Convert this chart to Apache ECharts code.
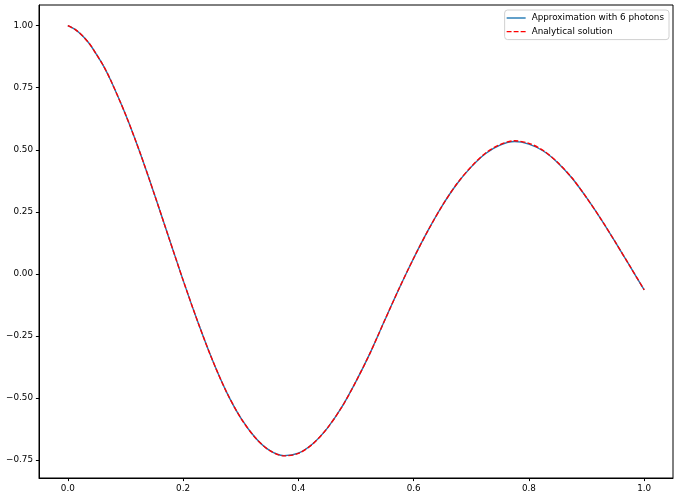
<!DOCTYPE html>
<html>
<head>
<meta charset="utf-8">
<script src="https://cdn.jsdelivr.net/npm/echarts@6/dist/echarts.min.js"></script>
<style>html,body{margin:0;padding:0;background:#fff;}#c{width:679px;height:500px;}</style>
</head>
<body>
<div id="c"></div>
<script>
const xValues = [0,0.0125,0.025,0.0375,0.05,0.0625,0.075,0.1,0.125,0.15,0.175,0.2,0.225,0.25,0.275,0.3,0.325,0.35,0.375,0.4,0.425,0.45,0.475,0.5,0.525,0.55,0.575,0.6,0.625,0.65,0.675,0.7,0.725,0.75,0.775,0.8,0.825,0.85,0.875,0.9,0.925,0.95,0.975,1.0];
const approxValues = [1.000,0.985,0.960,0.927,0.883,0.835,0.777,0.643,0.490,0.322,0.148,-0.025,-0.190,-0.342,-0.474,-0.580,-0.659,-0.711,-0.732,-0.722,-0.684,-0.622,-0.538,-0.433,-0.316,-0.186,-0.058,0.063,0.175,0.276,0.362,0.431,0.485,0.519,0.533,0.523,0.495,0.448,0.385,0.307,0.221,0.128,0.032,-0.064];
const analyticValues = [1.000,0.985,0.960,0.927,0.883,0.835,0.777,0.643,0.490,0.322,0.148,-0.025,-0.190,-0.342,-0.474,-0.580,-0.659,-0.711,-0.733,-0.723,-0.685,-0.622,-0.538,-0.433,-0.316,-0.186,-0.058,0.063,0.175,0.276,0.363,0.432,0.487,0.521,0.536,0.526,0.497,0.449,0.386,0.307,0.221,0.128,0.032,-0.064];
const xTicks = [0,0.2,0.4,0.6,0.8,1.0];
const yTicks = [-0.75,-0.5,-0.25,0,0.25,0.5,0.75,1.0];
const seriesNames = ['Approximation with 6 photons','Analytical solution'];

const fmtY = v => { const s = Math.abs(v).toFixed(2); return v < 0 ? '\u2212' + s : s; };
const fmtX = v => { const s = Math.abs(v).toFixed(1); return v < 0 ? '\u2212' + s : s; };

const solidIcon = 'path://M0,0H19V1.4H0Z';
const dashIcon = 'path://M0,0H4.9V1.4H0Z M7,0H11.9V1.4H7Z M14,0H18.9V1.4H14Z M18.9,0H19V1.4H18.9Z';

const chart = echarts.init(document.getElementById('c'), null, {renderer:'canvas'});
chart.setOption({
  animation:false,
  backgroundColor:'#fff',
  textStyle:{fontFamily:'DejaVu Sans'},
  grid:{left:39,right:6,top:5,bottom:22,show:true,borderColor:'#000',borderWidth:1,backgroundColor:'transparent'},
  legend:{
    orient:'vertical', right:10, top:10,
    data:[
      {name:seriesNames[0], icon:solidIcon, itemStyle:{color:'#1f77b4'}},
      {name:seriesNames[1], icon:dashIcon, itemStyle:{color:'#ff0000'}}
    ],
    itemWidth:19, itemHeight:1.4, itemGap:3.6,
    padding:[3,5,3,2],
    borderColor:'#d0d0d0', borderWidth:1, borderRadius:3,
    backgroundColor:'rgba(255,255,255,0.8)',
    textStyle:{fontFamily:'DejaVu Sans',fontSize:8.8,color:'#000',lineHeight:10,padding:[0,0,0,1]}
  },
  xAxis:{
    type:'value', min:-0.05, max:1.05,
    splitLine:{show:false},
    axisLine:{show:true,onZero:false,lineStyle:{color:'#000',width:1}},
    axisTick:{show:true,length:3.1,lineStyle:{color:'#000'},customValues:xTicks},
    axisLabel:{color:'#000',fontSize:8.8,margin:6,customValues:xTicks,formatter:fmtX,fontFamily:'DejaVu Sans'}
  },
  yAxis:{
    type:'value', min:-0.822, max:1.083,
    splitLine:{show:false},
    axisLine:{show:true,onZero:false,lineStyle:{color:'#000',width:1}},
    axisTick:{show:true,length:3.1,lineStyle:{color:'#000'},customValues:yTicks},
    axisLabel:{color:'#000',fontSize:8.8,margin:6,customValues:yTicks,formatter:fmtY,fontFamily:'DejaVu Sans'}
  },
  series:[
    {name:seriesNames[0],type:'line',showSymbol:false,symbol:'none',smooth:0.3,
     data:xValues.map((x,i)=>[x,approxValues[i]]),
     itemStyle:{color:'#1f77b4'},
     lineStyle:{color:'#1f77b4',width:1.4}},
    {name:seriesNames[1],type:'line',showSymbol:false,symbol:'none',smooth:0.3,
     data:xValues.map((x,i)=>[x,analyticValues[i]]),
     itemStyle:{color:'#ff0000'},
     lineStyle:{color:'#ff0000',width:1.4,type:[4.9,2.1]}}
  ]
});
</script>
</body>
</html>
